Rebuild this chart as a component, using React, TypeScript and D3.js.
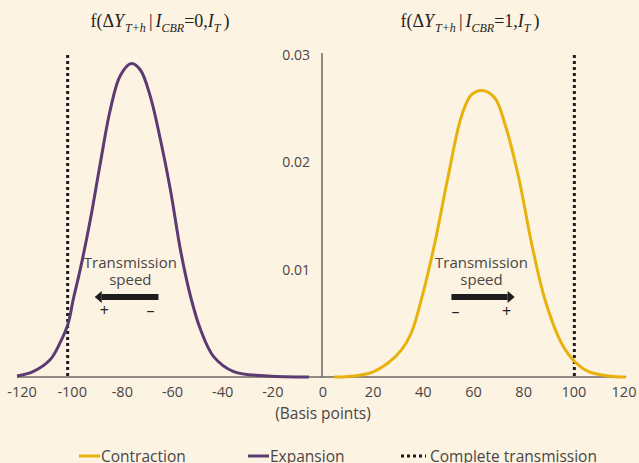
import React from 'react';
import * as d3 from 'd3';

// density curves (basis points, density)
const expansionX = [-122, -115.6, -108.8, -104.8, -101.6, -99.6, -96.8, -92.8, -88.8, -84.8, -80.8, -76.4, -72.8, -68.8, -64.8, -60.8, -56.8, -52.8, -48.8, -43.6, -35.6, -22, -5.6];
const expansionY = [0.0001, 0.0005, 0.0016, 0.0032, 0.0050, 0.0072, 0.0100, 0.0146, 0.0199, 0.0249, 0.0281, 0.0292, 0.0286, 0.0261, 0.0221, 0.0174, 0.0118, 0.0075, 0.0044, 0.0019, 0.0005, 0.0001, 0.0];
const contractionX = [4.5, 12.4, 19.2, 25.9, 31.2, 35.2, 39.2, 44.5, 49.9, 55.2, 59.2, 63.5, 68.5, 72.5, 77.9, 83.2, 88.5, 95.2, 100.5, 105.9, 113.9, 120.5];
const contractionY = [0.0, 0.0001, 0.0004, 0.0013, 0.0025, 0.0041, 0.0072, 0.0124, 0.0187, 0.0243, 0.0263, 0.0267, 0.0260, 0.0236, 0.0187, 0.0124, 0.0072, 0.0031, 0.0014, 0.0005, 0.0001, 0.0];

// complete transmission markers
const completeTransmission = [-101.8, 100.2];

const xTicks = [-120, -100, -80, -60, -40, -20, 0, 20, 40, 60, 80, 100, 120];
const yTicks = [0.01, 0.02, 0.03];

const legendItems = ['Contraction', 'Expansion', 'Complete transmission'];

const W = 639;
const H = 463;
const BG = '#fcf3e3';
const PURPLE = '#5c3a72';
const YELLOW = '#e9b10c';
const AXIS = '#6e6763';
const TEXT = '#4a4644';
const SANS = '"Open Sans", "Noto Sans", sans-serif';
const SERIF = '"Liberation Serif", "DejaVu Serif", serif';

const App = () => {
  const x = d3.scaleLinear().domain([-120, 120]).range([22, 624]);
  const y = d3.scaleLinear().domain([0, 0.03]).range([377, 55]);

  const line = d3.line<[number, number]>()
    .x(d => x(d[0]))
    .y(d => y(d[1]))
    .curve(d3.curveCatmullRom.alpha(0.5));

  const expansion = expansionX.map((v, i) => [v, expansionY[i]] as [number, number]);
  const contraction = contractionX.map((v, i) => [v, contractionY[i]] as [number, number]);

  const title = (cx: number, val: string) => (
    <text x={cx} y={27} textAnchor="middle" fontFamily={SERIF} fontSize={18} fill="#222">
      <tspan>f(Δ</tspan>
      <tspan fontStyle="italic">Y</tspan>
      <tspan fontStyle="italic" fontSize={12} dy={5} dx={1}>T+h</tspan>
      <tspan dy={-5} dx={3}>|</tspan>
      <tspan fontStyle="italic" dx={3}>I</tspan>
      <tspan fontStyle="italic" fontSize={12} dy={5}>CBR</tspan>
      <tspan dy={-5}>={val},</tspan>
      <tspan fontStyle="italic">I</tspan>
      <tspan fontStyle="italic" fontSize={12} dy={5}>T</tspan>
      <tspan dy={-5} dx={3}>)</tspan>
    </text>
  );

  const arrow = (from: number, to: number, yv: number) => {
    const x1 = x(from);
    const x2 = x(to);
    const yy = y(yv);
    const dir = Math.sign(x2 - x1);
    const head = 7;
    return (
      <g>
        <line x1={x1} y1={yy} x2={x2 - dir * head} y2={yy} stroke="#1e1c1c" strokeWidth={6} />
        <path d={`M${x2},${yy} L${x2 - dir * head},${yy - 6} L${x2 - dir * head},${yy + 6} Z`} fill="#1e1c1c" />
      </g>
    );
  };

  const speedLabel = (cx: number) => (
    <text x={x(cx)} textAnchor="middle" fontFamily={SANS} fontSize={15} fill={TEXT}>
      <tspan x={x(cx)} y={268}>Transmission</tspan>
      <tspan x={x(cx)} y={285}>speed</tspan>
    </text>
  );

  const legendX = [79, 248, 401];
  const legendY = 456;

  return (
    <svg width={W} height={H} style={{ position: 'absolute', left: 0, top: 0, display: 'block' }}>
      <rect width={W} height={H} fill={BG} />

      {title(160, '0')}
      {title(470, '1')}

      {/* complete transmission lines */}
      {completeTransmission.map(v => (
        <line key={v} x1={x(v)} x2={x(v)} y1={55} y2={y(0)} stroke="#1e1c1c" strokeWidth={3} strokeDasharray="3,3" />
      ))}

      {/* axes */}
      <line x1={17} x2={626} y1={y(0)} y2={y(0)} stroke={AXIS} strokeWidth={1.5} />
      <line x1={x(0) - 1} x2={x(0) - 1} y1={53} y2={y(0)} stroke={AXIS} strokeWidth={1.5} />

      {xTicks.map(t => (
        <text key={t} x={x(t)} y={397} textAnchor="middle" fontFamily={SANS} fontSize={14.5} fill={TEXT}>
          {t}
        </text>
      ))}
      {yTicks.map(t => (
        <text key={t} x={310} y={y(t) + 5} textAnchor="end" fontFamily={SANS} fontSize={14} fill={TEXT}>
          {t}
        </text>
      ))}
      <text x={323} y={419} textAnchor="middle" fontFamily={SANS} fontSize={15.5} fill={TEXT}>(Basis points)</text>

      {/* curves */}
      <path d={line(expansion) ?? ''} fill="none" stroke={PURPLE} strokeWidth={3} />
      <path d={line(contraction) ?? ''} fill="none" stroke={YELLOW} strokeWidth={3} />

      {/* annotations */}
      {speedLabel(-76.8)}
      {arrow(-65.6, -91, 0.00745)}
      <text x={x(-87.2)} y={316} textAnchor="middle" fontFamily={SANS} fontSize={16} fill="#222">+</text>
      <text x={x(-68.8)} y={316} textAnchor="middle" fontFamily={SANS} fontSize={16} fill="#222">–</text>

      {speedLabel(63.2)}
      {arrow(51.2, 76.4, 0.00745)}
      <text x={x(52.8)} y={317} textAnchor="middle" fontFamily={SANS} fontSize={16} fill="#222">–</text>
      <text x={x(73.2)} y={317} textAnchor="middle" fontFamily={SANS} fontSize={16} fill="#222">+</text>

      {/* legend */}
      {legendItems.map((name, i) => (
        <g key={name}>
          {i < 2 ? (
            <line x1={legendX[i]} x2={legendX[i] + 21} y1={legendY} y2={legendY} stroke={i === 0 ? YELLOW : PURPLE} strokeWidth={3} />
          ) : (
            <line x1={legendX[i]} x2={legendX[i] + 25} y1={legendY} y2={legendY} stroke="#1e1c1c" strokeWidth={3} strokeDasharray="3,3" />
          )}
          <text x={legendX[i] + (i < 2 ? 22 : 29)} y={legendY + 6} fontFamily={SANS} fontSize={15.5} fill={TEXT}>{name}</text>
        </g>
      ))}
    </svg>
  );
};

export default App;
